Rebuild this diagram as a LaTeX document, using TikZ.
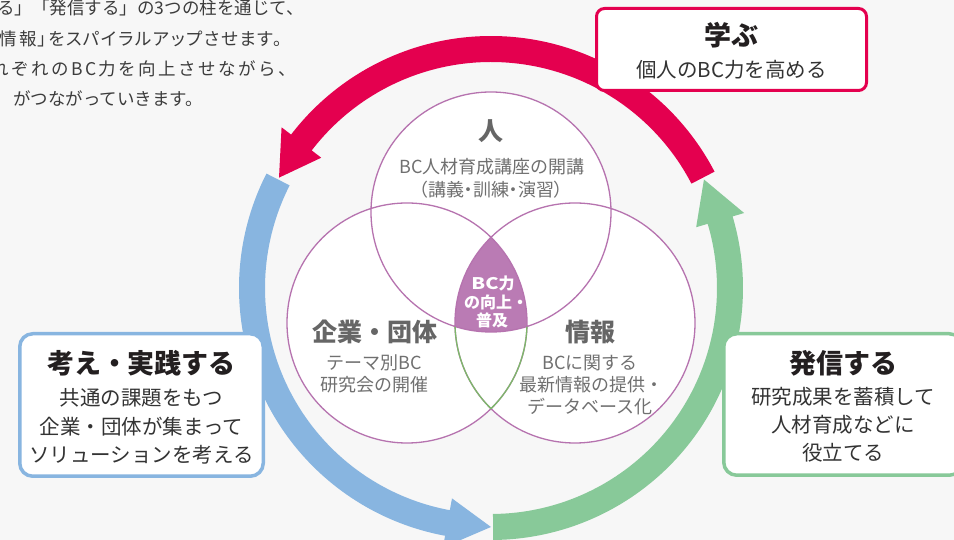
\documentclass[tikz,border=0pt]{standalone}
\usepackage{fontspec}
\setmainfont{Noto Sans CJK JP}
\usetikzlibrary{calc}
\definecolor{bgc}{HTML}{F7F7F7}
\definecolor{redc}{HTML}{E4004F}
\definecolor{bluec}{HTML}{88B5E0}
\definecolor{greenc}{HTML}{88C999}
\definecolor{purpline}{HTML}{B673AF}
\definecolor{purpfill}{HTML}{BA7BB4}
\definecolor{greenline}{HTML}{7DB86A}
\definecolor{titlec}{HTML}{231F20}
\definecolor{subc}{HTML}{333333}
\definecolor{vgray}{HTML}{666666}
\definecolor{vgraysub}{HTML}{707070}
\definecolor{parac}{HTML}{3C3C3C}
\newcommand\ringarrow[4]{%
  \fill[#1] (#2:252) arc[start angle=#2, end angle=#3, radius=252] -- (#3:264) -- (#4:239) -- (#3:214) -- (#3:226) arc[start angle=#3, end angle=#2, radius=226] -- cycle;}
\begin{document}
\begin{tikzpicture}[x=1pt,y=1pt,
  ttl/.style={inner sep=0, text=titlec, font=\fontsize{27}{30}\selectfont\bfseries},
  sub/.style={inner sep=0, text=subc, font=\fontsize{20.5}{24}\selectfont},
  vttl/.style={inner sep=0, text=vgray, font=\fontsize{25}{28}\selectfont\bfseries},
  vsub/.style={inner sep=0, text=vgraysub, font=\fontsize{18}{21}\selectfont},
  ctr/.style={inner sep=0, text=white, font=\fontsize{16}{18}\selectfont\bfseries},
  para/.style={inner sep=0, text=parac, font=\fontsize{17.5}{20}\selectfont, anchor=east},
  cardbox/.style={draw=#1, fill=white, line width=3.5, rounded corners=13, inner sep=0}]
\useasboundingbox (0,0) rectangle (954,540);
\begin{scope}
\clip (0,0) rectangle (954,540);
\fill[bgc] (0,0) rectangle (954,540);
% paragraph
\node[para] (p1) at (304,532) {る」「発信する」の3つの柱を通じて、};
\node[para] (p2) at (282,501) {\addfontfeature{RawFeature=+palt,LetterSpace=9}情報」をスパイラルアップさせます。};
\node[para] (p3) at (296,471.5) {\addfontfeature{LetterSpace=14}れぞれのBC力を向上させながら、};
\node[para, anchor=west] (p4) at (13,441.5) {がつながっていきます。};
% ring
\begin{scope}[shift={(491,252)}]
  \ringarrow{redc}{27.5}{142.5}{152.5}
  \ringarrow{bluec}{153}{259.5}{270}
  \ringarrow{greenc}{270.5}{376.5}{387}
\end{scope}
% venn
\coordinate (T) at (491,328);
\coordinate (L) at (407,217);
\coordinate (R) at (575,217);
\fill[white] (T) circle[radius=120] (L) circle[radius=120] (R) circle[radius=120];
\begin{scope}
  \clip (T) circle[radius=120];
  \clip (L) circle[radius=120];
  \fill[purpfill] (R) circle[radius=120];
\end{scope}
\draw[purpline, line width=1.3] (T) circle[radius=120] (L) circle[radius=120] (R) circle[radius=120];
\draw[greenline, line width=1.3] ($(L)+(-45.6:120)$) arc[start angle=-45.6, end angle=-1.7, radius=120];
\draw[greenline, line width=1.3] ($(R)+(181.7:120)$) arc[start angle=181.7, end angle=225.6, radius=120];
\node[vttl] (hitoT) at (491,409) {人};
\node[vsub] (hito1) at (492,373) {BC人材育成講座の開講};
\node[vsub] (hito2) at (491,350) {\addfontfeature{RawFeature=+palt}（講義・訓練・演習）};
\node[vttl] (kigyoT) at (375,208) {企業・団体};
\node[vsub] (kigyo1) at (374,177) {テーマ別BC};
\node[vsub] (kigyo2) at (374,155) {研究会の開催};
\node[vttl] (johoT) at (590,208) {情報};
\node[vsub] (joho1) at (590,177) {BCに関する};
\node[vsub] (joho2) at (591,155) {最新情報の提供・};
\node[vsub] (joho3) at (590,133) {データベース化};
\node[ctr] (c1) at (493,257) {\scalebox{1.25}[1]{BC}力};
\node[ctr] (c2) at (496,238) {の向上・};
\node[ctr] (c3) at (492,220) {普及};
% boxes
\node[cardbox=redc, line width=3, rounded corners=8, minimum width=270, minimum height=82] (learnbox) at (731.5,490.5) {};
\node[ttl] (learnT) at (731.5,505) {学ぶ};
\node[sub] (learnS) at (731.5,470) {個人のBC力を高める};
\node[cardbox=bluec, minimum width=243.5, minimum height=142.5] (thinkbox) at (141.5,135) {};
\node[ttl] (thinkT) at (141.5,177) {考え・実践する};
\node[sub] (think1) at (141.5,142) {共通の課題をもつ};
\node[sub] (think2) at (141.5,113) {企業・団体が集まって};
\node[sub] (think3) at (141.5,85) {ソリューションを考える};
\node[cardbox=greenc, minimum width=238.5, minimum height=141.5] (sendbox) at (843,135.5) {};
\node[ttl] (sendT) at (843,177) {発信する};
\node[sub] (send1) at (843,143) {研究成果を蓄積して};
\node[sub] (send2) at (843,115) {人材育成などに};
\node[sub] (send3) at (843,87) {役立てる};
\end{scope}
\end{tikzpicture}
\end{document}
